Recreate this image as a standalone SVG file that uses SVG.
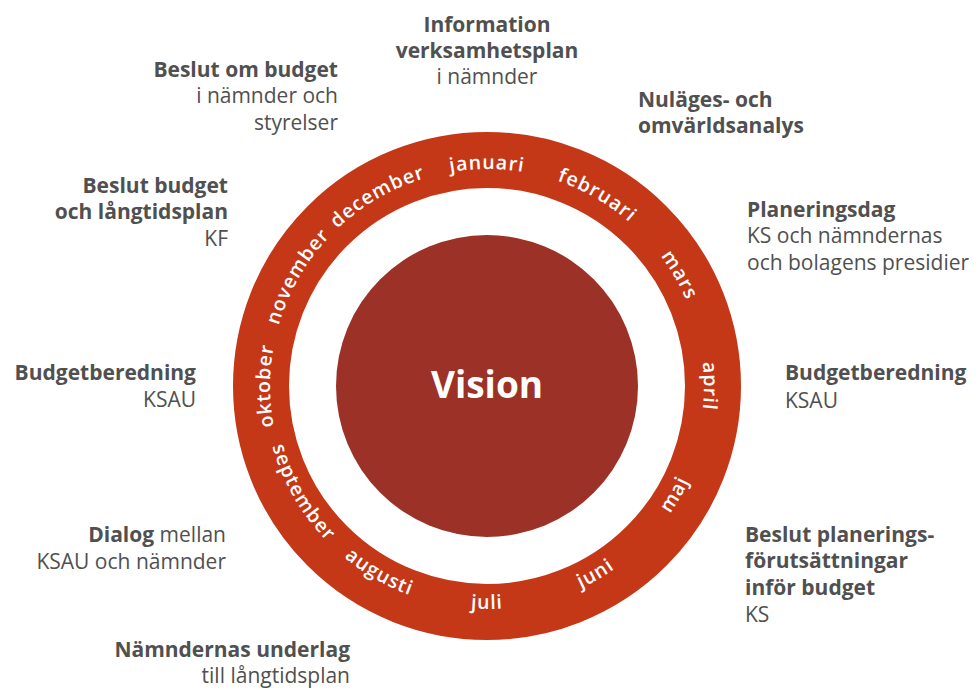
<svg xmlns="http://www.w3.org/2000/svg" width="980" height="690" viewBox="0 0 980 690">
<style>
text{font-family:"Open Sans","Liberation Sans",Arial,sans-serif;fill:#505050}
.b{font-weight:700;font-size:21px}
.r{font-weight:400;font-size:21px}
.m{font-weight:600;font-size:19.5px;fill:#ffffff;letter-spacing:1px}
.v{font-weight:700;font-size:37px;fill:#ffffff}
</style>
<defs>
<path id="cw" d="M487,603 A217,217 0 1 1 487,169 A217,217 0 1 1 487,603"/>
<path id="ccw" d="M487,163 A223,223 0 1 0 487,609 A223,223 0 1 0 487,163"/>
</defs>
<rect width="980" height="690" fill="#ffffff"/>
<g id="wheel">
<circle cx="487" cy="386" r="226" fill="none" stroke="#C53817" stroke-width="56"/>
<circle cx="487" cy="386" r="151" fill="#9B3127"/>
<text class="v" x="487" y="398" text-anchor="middle">Vision</text>
</g>
<g id="months">
<text class="m" text-anchor="middle"><textPath href="#cw" startOffset="25%">oktober</textPath></text>
<text class="m" text-anchor="middle"><textPath href="#cw" startOffset="33.333%">november</textPath></text>
<text class="m" text-anchor="middle"><textPath href="#cw" startOffset="41.667%">december</textPath></text>
<text class="m" text-anchor="middle"><textPath href="#cw" startOffset="50%">januari</textPath></text>
<text class="m" text-anchor="middle"><textPath href="#cw" startOffset="58.333%">februari</textPath></text>
<text class="m" text-anchor="middle"><textPath href="#cw" startOffset="66.667%">mars</textPath></text>
<text class="m" text-anchor="middle"><textPath href="#cw" startOffset="75%">april</textPath></text>
<text class="m" text-anchor="middle"><textPath href="#ccw" startOffset="66.667%">maj</textPath></text>
<text class="m" text-anchor="middle"><textPath href="#ccw" startOffset="58.333%">juni</textPath></text>
<text class="m" text-anchor="middle"><textPath href="#ccw" startOffset="50%">juli</textPath></text>
<text class="m" text-anchor="middle"><textPath href="#ccw" startOffset="41.667%">augusti</textPath></text>
<text class="m" text-anchor="middle"><textPath href="#ccw" startOffset="33.333%">september</textPath></text>
</g>
<g id="info-verksamhetsplan" text-anchor="middle">
<text class="b" x="487" y="32">Information</text>
<text class="b" x="487" y="58">verksamhetsplan</text>
<text class="r" x="487" y="84">i nämnder</text>
</g>
<g id="beslut-om-budget" text-anchor="end">
<text class="b" x="338" y="77">Beslut om budget</text>
<text class="r" x="338" y="103">i nämnder och</text>
<text class="r" x="338" y="130">styrelser</text>
</g>
<g id="beslut-budget-kf" text-anchor="end">
<text class="b" x="228" y="193">Beslut budget</text>
<text class="b" x="228" y="219">och långtidsplan</text>
<text class="r" x="228" y="246">KF</text>
</g>
<g id="budgetberedning-okt" text-anchor="end">
<text class="b" x="196" y="380">Budgetberedning</text>
<text class="r" x="196" y="407">KSAU</text>
</g>
<g id="dialog" text-anchor="end">
<text class="r" x="226" y="542"><tspan class="b">Dialog</tspan> mellan</text>
<text class="r" x="226" y="569">KSAU och nämnder</text>
</g>
<g id="namndernas-underlag" text-anchor="end">
<text class="b" x="350" y="657">Nämndernas underlag</text>
<text class="r" x="350" y="683">till långtidsplan</text>
</g>
<g id="nulages-analys">
<text class="b" x="638" y="107">Nuläges- och</text>
<text class="b" x="638" y="133">omvärldsanalys</text>
</g>
<g id="planeringsdag">
<text class="b" x="747" y="217">Planeringsdag</text>
<text class="r" x="747" y="243">KS och nämndernas</text>
<text class="r" x="747" y="270">och bolagens presidier</text>
</g>
<g id="budgetberedning-apr">
<text class="b" x="785" y="380">Budgetberedning</text>
<text class="r" x="785" y="408">KSAU</text>
</g>
<g id="beslut-planering">
<text class="b" x="745" y="542">Beslut planerings-</text>
<text class="b" x="745" y="568">förutsättningar</text>
<text class="b" x="745" y="595">inför budget</text>
<text class="r" x="745" y="622">KS</text>
</g>
</svg>
